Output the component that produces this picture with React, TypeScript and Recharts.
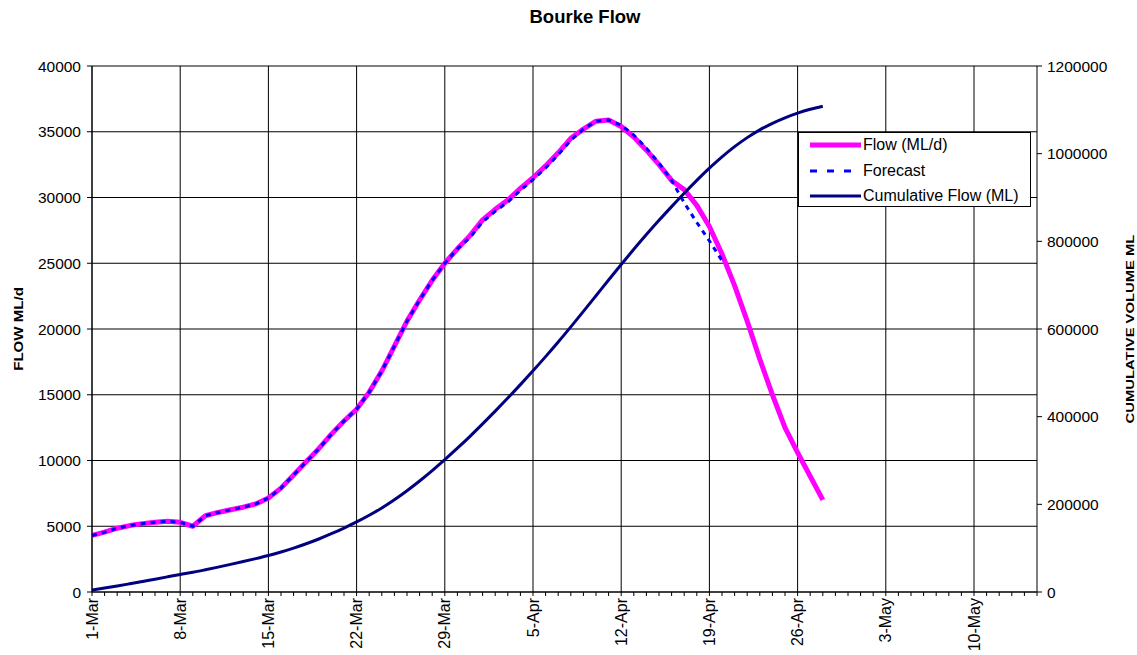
import { LineChart, Line, XAxis, YAxis, CartesianGrid, Legend, Label } from 'recharts';

const FONT = '"Liberation Sans", Arial, Helvetica, sans-serif';

// day 0 = 1-Mar, one value per day
const flowValues = [
  4300, 4550, 4850, 5050, 5200, 5300, 5380, 5300, 5000, 5800,
  6050, 6250, 6450, 6700, 7150, 7900, 8900, 9900, 10900, 12000,
  13000, 13900, 15200, 16800, 18700, 20600, 22200, 23700, 25000, 26100,
  27100, 28300, 29100, 29800, 30700, 31500, 32400, 33400, 34500, 35200,
  35800, 35900, 35400, 34600, 33600, 32500, 31300, 30600, 29400, 27800,
  25700, 23300, 20600, 17700, 15000, 12500, 10600, 8800, 7000,
];

const forecastValues = [
  4300, 4550, 4850, 5050, 5200, 5300, 5380, 5300, 5000, 5800,
  6050, 6250, 6450, 6700, 7150, 7900, 8900, 9900, 10900, 12000,
  13000, 13900, 15200, 16800, 18700, 20600, 22200, 23700, 25000, 26100,
  26950, 28150, 28950, 29650, 30550, 31350, 32250, 33250, 34350, 35200,
  35800, 35900, 35500, 34750, 33750, 32600, 31300, 29600, 28100, 26700,
  25200,
];

const cumulativeValues = [
  4300, 8900, 13700, 18800, 24000, 29300, 34600, 39900, 44900, 50700,
  56800, 63000, 69500, 76200, 83300, 91200, 100100, 110000, 120900, 132900,
  145900, 159800, 175000, 191800, 210500, 231100, 253300, 277000, 302000, 328100,
  355200, 383500, 412600, 442400, 473100, 504600, 537000, 570400, 604900, 640100,
  675900, 711800, 747200, 781800, 815400, 847900, 879200, 909800, 939200, 967000,
  992700, 1016000, 1036600, 1054300, 1069300, 1081800, 1092400, 1101200, 1108200,
];

const weekTicks = [0, 7, 14, 21, 28, 35, 42, 49, 56, 63, 70];
const dateLabels = ['1-Mar', '8-Mar', '15-Mar', '22-Mar', '29-Mar', '5-Apr', '12-Apr', '19-Apr', '26-Apr', '3-May', '10-May'];
const dayTicks = Array.from({ length: 76 }, (_, i) => i);
const flowTicks = [0, 5000, 10000, 15000, 20000, 25000, 30000, 35000, 40000];
const volumeTicks = [0, 200000, 400000, 600000, 800000, 1000000, 1200000];

const data = flowValues.map((flow, day) => ({
  day,
  flow,
  forecast: forecastValues[day],
  cumulative: cumulativeValues[day],
}));

function DayTick(props: any) {
  const { x, y, payload } = props;
  const idx = weekTicks.indexOf(payload.value);
  return (
    <g>
      <line x1={x} x2={x} y1={y} y2={y + 4} stroke="#000" />
      {idx >= 0 && (
        <text
          transform={`translate(${x},${y + 6}) rotate(-90)`}
          textAnchor="end"
          dy="0.35em"
          fontSize={16}
          fontFamily={FONT}
          fill="#000"
        >
          {dateLabels[idx]}
        </text>
      )}
    </g>
  );
}

const legendItems = [
  { name: 'Flow (ML/d)', color: '#ff00ff', width: 5, dash: undefined },
  { name: 'Forecast', color: '#0000ff', width: 3, dash: '7 10' },
  { name: 'Cumulative Flow (ML)', color: '#000080', width: 3, dash: undefined },
];

function LegendBox() {
  return (
    <div style={{ width: 231, height: 73, border: '1px solid #000', background: '#fff', position: 'relative', fontFamily: FONT, fontSize: 16 }}>
      {legendItems.map((item, i) => (
        <div key={item.name} style={{ position: 'absolute', left: 10, top: 2 + i * 25.5, height: 20, display: 'flex', alignItems: 'center' }}>
          <svg width={54} height={20}>
            <line x1={1} x2={52} y1={10} y2={10} stroke={item.color} strokeWidth={item.width} strokeDasharray={item.dash} />
          </svg>
          <span style={{ color: '#000', whiteSpace: 'nowrap' }}>{item.name}</span>
        </div>
      ))}
    </div>
  );
}

export default function App() {
  return (
    <div style={{ position: 'relative', width: 1137, height: 655, fontFamily: FONT }}>
      {/* chart fills the whole window, so no body margin and no scrollbars */}
      <style>{'body { margin: 0; overflow: hidden; }'}</style>
      <div style={{ position: 'absolute', left: 485, top: 6, width: 200, textAlign: 'center', fontWeight: 'bold', fontSize: 18.5 }}>
        Bourke Flow
      </div>
      <LineChart width={1137} height={655} data={data} margin={{ top: 66, right: 40, bottom: 23, left: 32 }}>
        <CartesianGrid xAxisId="x" yAxisId="left" verticalValues={weekTicks} stroke="#000" />
        <XAxis
          xAxisId="x"
          dataKey="day"
          type="number"
          domain={[0, 75]}
          ticks={dayTicks}
          interval={0}
          tickLine={false}
          tickSize={0}
          tickMargin={0}
          tick={<DayTick />}
          axisLine={{ stroke: '#000' }}
          height={40}
        />
        <YAxis
          yAxisId="left"
          domain={[0, 40000]}
          ticks={flowTicks}
          interval={0}
          width={60}
          tickSize={5}
          tickMargin={6}
          axisLine={{ stroke: '#000' }}
          tickLine={{ stroke: '#000' }}
          tick={{ fill: '#000', fontSize: 15.5, fontFamily: FONT }}
        >
          <Label
            content={(p: any) => (
              <text
                transform={`translate(${p.viewBox.x - 14},${p.viewBox.y + p.viewBox.height / 2}) rotate(-90) scale(1.16,1)`}
                textAnchor="middle"
                dy="0.35em"
                fontSize={13}
                fontWeight="bold"
                fontFamily={FONT}
                fill="#000"
              >
                FLOW ML/d
              </text>
            )}
          />
        </YAxis>
        <YAxis
          yAxisId="right"
          orientation="right"
          domain={[0, 1200000]}
          ticks={volumeTicks}
          interval={0}
          width={60}
          tickSize={5}
          tickMargin={5}
          axisLine={{ stroke: '#000' }}
          tickLine={{ stroke: '#000' }}
          tick={{ fill: '#000', fontSize: 15.5, fontFamily: FONT }}
        >
          <Label
            content={(p: any) => (
              <text
                transform={`translate(${p.viewBox.x + 93},${p.viewBox.y + p.viewBox.height / 2}) rotate(-90) scale(1.41,1)`}
                textAnchor="middle"
                dy="0.35em"
                fontSize={10.5}
                fontWeight="bold"
                fontFamily={FONT}
                fill="#000"
              >
                CUMULATIVE VOLUME  ML
              </text>
            )}
          />
        </YAxis>
        <Line xAxisId="x" yAxisId="left" type="linear" dataKey="flow" stroke="#ff00ff" strokeWidth={5} dot={false} isAnimationActive={false} strokeLinejoin="round" />
        <Line xAxisId="x" yAxisId="left" type="linear" dataKey="forecast" stroke="#0000ff" strokeWidth={3} strokeDasharray="5 5" dot={false} isAnimationActive={false} />
        <Line xAxisId="x" yAxisId="right" type="monotone" dataKey="cumulative" stroke="#000080" strokeWidth={3} dot={false} isAnimationActive={false} />
        <Legend
          layout="horizontal"
          align="center"
          verticalAlign="middle"
          content={() => <LegendBox />}
          wrapperStyle={{ left: 798, top: 132, width: 233, height: 75 }}
        />
      </LineChart>
    </div>
  );
}
